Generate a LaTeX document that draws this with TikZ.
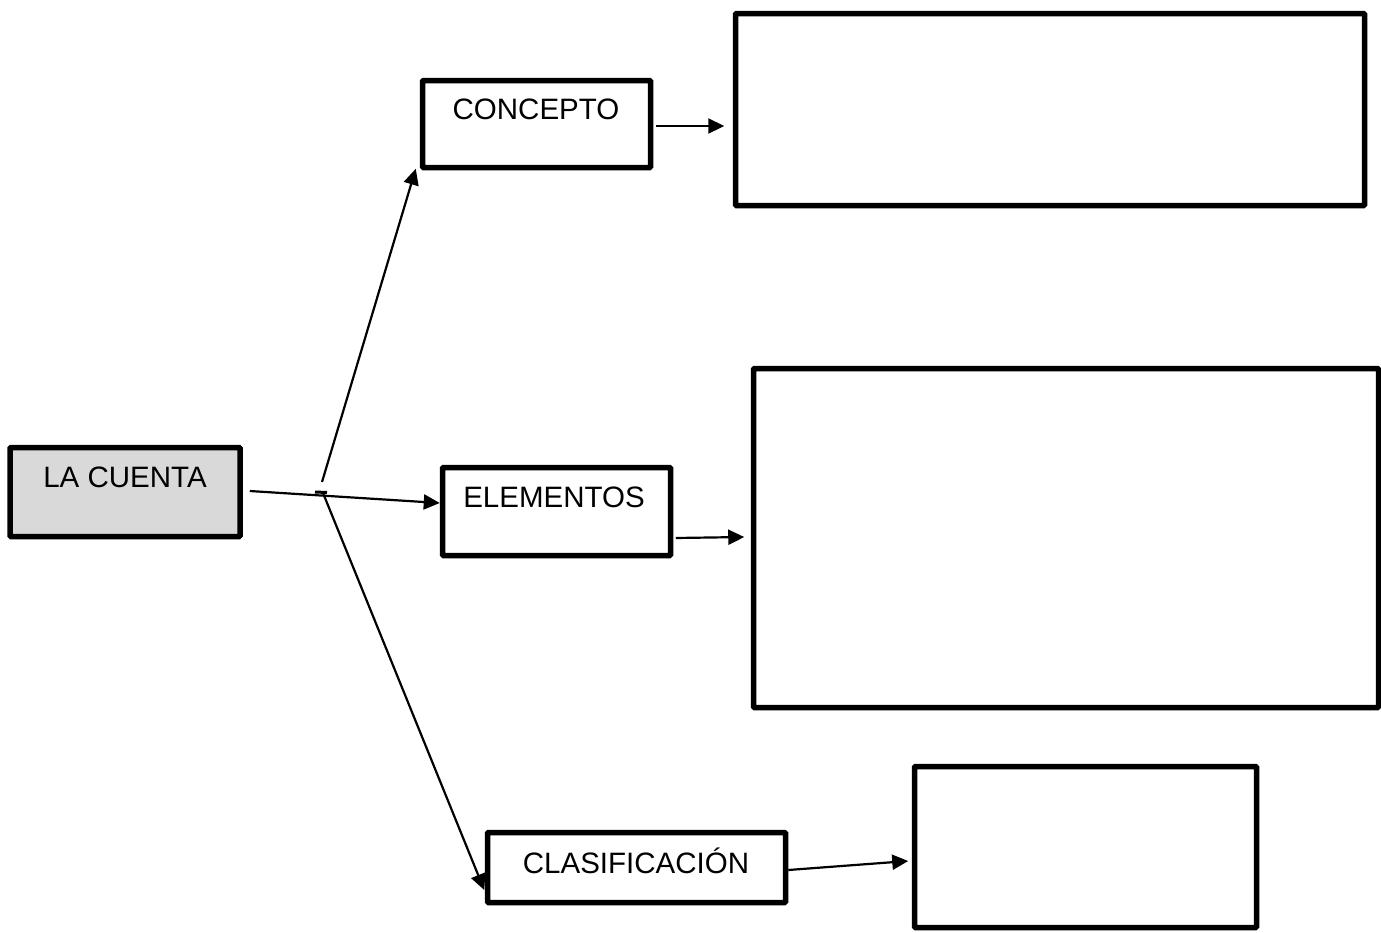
\documentclass[tikz,border=0pt]{standalone}
\usepackage{fontspec}
\setmainfont{Liberation Sans}
\usetikzlibrary{arrows.meta,calc}
\definecolor{boxgray}{HTML}{D9D9D9}
\begin{document}
\begin{tikzpicture}[x=1pt,y=-1pt,
  box/.style={draw=black,line width=5.5pt,rectangle,inner sep=0pt,rounded corners=1pt},
  txt/.style={inner sep=0pt,font=\fontsize{29.5}{34}\selectfont},
  arr/.style={line width=2.2pt,-{Triangle[length=16pt,width=15pt]}}]
\useasboundingbox (0,0) rectangle (1381,932);
% boxes
\node[box,fill=boxgray,minimum width=230pt,minimum height=89pt] (lc) at (125,492) {};
\node[box,minimum width=228pt,minimum height=87pt] (con) at (536.5,124) {};
\node[box,minimum width=629pt,minimum height=192pt] (b1) at (1050,109.5) {};
\node[box,minimum width=228pt,minimum height=88pt] (ele) at (556.5,511.5) {};
\node[box,minimum width=625pt,minimum height=339pt] (b2) at (1066,538) {};
\node[box,minimum width=298pt,minimum height=70pt] (cla) at (636.5,867.5) {};
\node[box,minimum width=342pt,minimum height=161pt] (b3) at (1085.5,847) {};
% texts
\node[txt] (tlc) at (125,477) {LA CUENTA};
\node[txt] (tcon) at (536,109) {CONCEPTO};
\node[txt] (tele) at (554,497) {ELEMENTOS};
\node[txt] (tcla) at (636,861) {CLASIFICACIÓN};
% branch
\coordinate (br) at (323,487);
\draw[arr] ($(lc.east)+(7,-1)$) -- ($(ele.west)+(0,-8.5)$);
\draw[line width=3pt] ($(br)+(-8,5)$) -- ($(br)+(4,5.5)$);
\draw[arr] ($(br)+(-1,-5)$) -- ($(con.south west)+(-4,-1.5)$);
\draw[arr] ($(br)+(0,6)$) -- ($(cla.west)+(-0.5,22.5)$);
% outgoing arrows
\draw[arr] ($(con.east)+(2.5,2)$) -- ($(b1.west)+(-8.5,16.5)$);
\draw[arr] ($(ele.east)+(2.5,26.5)$) -- ($(b2.west)+(-6.5,-1)$);
\draw[arr] ($(cla.east)+(0,2.5)$) -- ($(b3.west)+(-3.5,14)$);
\end{tikzpicture}
\end{document}
